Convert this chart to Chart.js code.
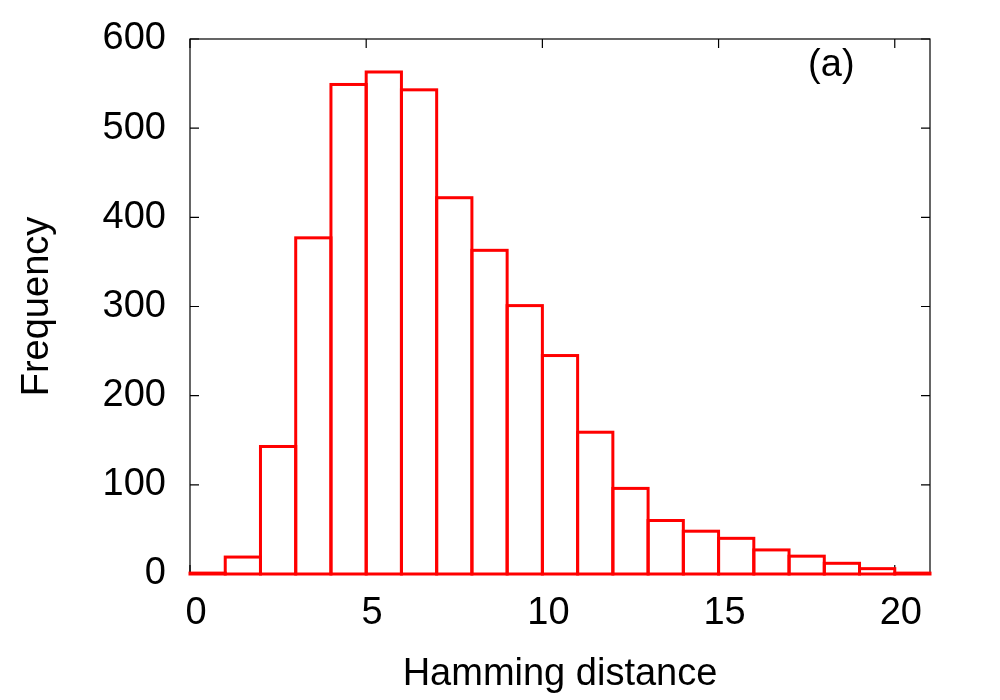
<!DOCTYPE html>
<html>
<head>
<meta charset="utf-8">
<script src="https://cdn.jsdelivr.net/npm/chart.js@4.4.0/dist/chart.umd.min.js"></script>
<style>
html,body{margin:0;padding:0;background:#fff;}
canvas{display:block;}
</style>
</head>
<body>
<canvas id="c" width="1000" height="700"></canvas>
<script>
// ---- data ----
const binStarts   = [0,1,2,3,4,5,6,7,8,9,10,11,12,13,14,15,16,17,18,19,20];
const frequencies = [1,19,143,377,549,563,543,422,363,301,245,159,96,60,48,40,27,20,12,6,1];
const xTickStep = 5;
const yTickStep = 100;
const xRange = [0, 21];
const yRange = [0, 600];
const xTitle = 'Hamming distance';
const yTitle = 'Frequency';
const panelLabel = '(a)';
const panelLabelAt = {x: 18.2, y: 570};

const FONT = '"Liberation Sans", Arial, Helvetica, sans-serif';
const FS = 38;
const RED = '#ff0000';

const points = binStarts.map((b, i) => ({x: b + 0.5, y: frequencies[i]}));

const framePlugin = {
  id: 'gnuFrame',
  beforeDatasetsDraw(chart) {
    const {ctx, chartArea: a, scales: {x, y}} = chart;
    ctx.save();
    ctx.strokeStyle = '#000';
    ctx.lineWidth = 1.2;
    ctx.strokeRect(a.left, a.top, a.right - a.left, a.bottom - a.top);
    const L = 9;
    ctx.beginPath();
    x.ticks.forEach(t => {
      const px = x.getPixelForValue(t.value);
      ctx.moveTo(px, a.bottom); ctx.lineTo(px, a.bottom - L);
      ctx.moveTo(px, a.top);    ctx.lineTo(px, a.top + L);
    });
    y.ticks.forEach(t => {
      const py = y.getPixelForValue(t.value);
      ctx.moveTo(a.left, py);  ctx.lineTo(a.left + L, py);
      ctx.moveTo(a.right, py); ctx.lineTo(a.right - L, py);
    });
    ctx.stroke();
    ctx.restore();
  },
  afterDatasetsDraw(chart) {
    const {ctx, scales: {x, y}} = chart;
    const meta = chart.getDatasetMeta(0);
    ctx.save();
    ctx.strokeStyle = RED;
    ctx.lineWidth = 3;
    ctx.lineJoin = 'miter';
    meta.data.forEach(bar => {
      const p = bar.getProps(['x', 'y', 'base', 'width'], true);
      ctx.strokeRect(p.x - p.width / 2, p.y, p.width, p.base - p.y);
    });
    ctx.fillStyle = '#000';
    ctx.font = FS + 'px ' + FONT;
    ctx.textAlign = 'center';
    ctx.textBaseline = 'middle';
    ctx.fillText(panelLabel, x.getPixelForValue(panelLabelAt.x), y.getPixelForValue(panelLabelAt.y));
    ctx.restore();
  }
};

Chart.defaults.font.family = FONT;
Chart.defaults.color = '#000';

new Chart(document.getElementById('c'), {
  type: 'bar',
  data: {
    datasets: [{
      data: points,
      backgroundColor: '#ffffff',
      borderWidth: 0,
      barPercentage: 1.0,
      categoryPercentage: 1.0,
      clip: false
    }]
  },
  options: {
    responsive: false,
    animation: false,
    devicePixelRatio: 1,
    layout: {padding: {top: 39, right: 70, left: 0, bottom: 0}},
    plugins: {legend: {display: false}, tooltip: {enabled: false}},
    scales: {
      x: {
        type: 'linear',
        min: xRange[0], max: xRange[1],
        offset: false,
        afterFit(s) { s.height = 126; s.paddingLeft = 0; s.paddingRight = 0; },
        grid: {display: false, drawTicks: false, offset: false},
        border: {display: false},
        ticks: {stepSize: xTickStep, includeBounds: false, padding: 17, labelOffset: 6,
                maxRotation: 0, autoSkip: false, font: {size: FS}, color: '#000'},
        title: {display: true, text: xTitle, font: {size: FS}, color: '#000', padding: {top: 0, bottom: 3}}
      },
      y: {
        type: 'linear',
        min: yRange[0], max: yRange[1],
        afterFit(s) { s.width = 190; s.paddingTop = 0; s.paddingBottom = 0; },
        grid: {display: false, drawTicks: false},
        border: {display: false},
        ticks: {stepSize: yTickStep, padding: 24, font: {size: FS}, color: '#000'},
        title: {display: true, text: yTitle, font: {size: FS}, color: '#000', padding: {top: 15, bottom: 0}}
      }
    }
  },
  plugins: [framePlugin]
});
</script>
</body>
</html>
